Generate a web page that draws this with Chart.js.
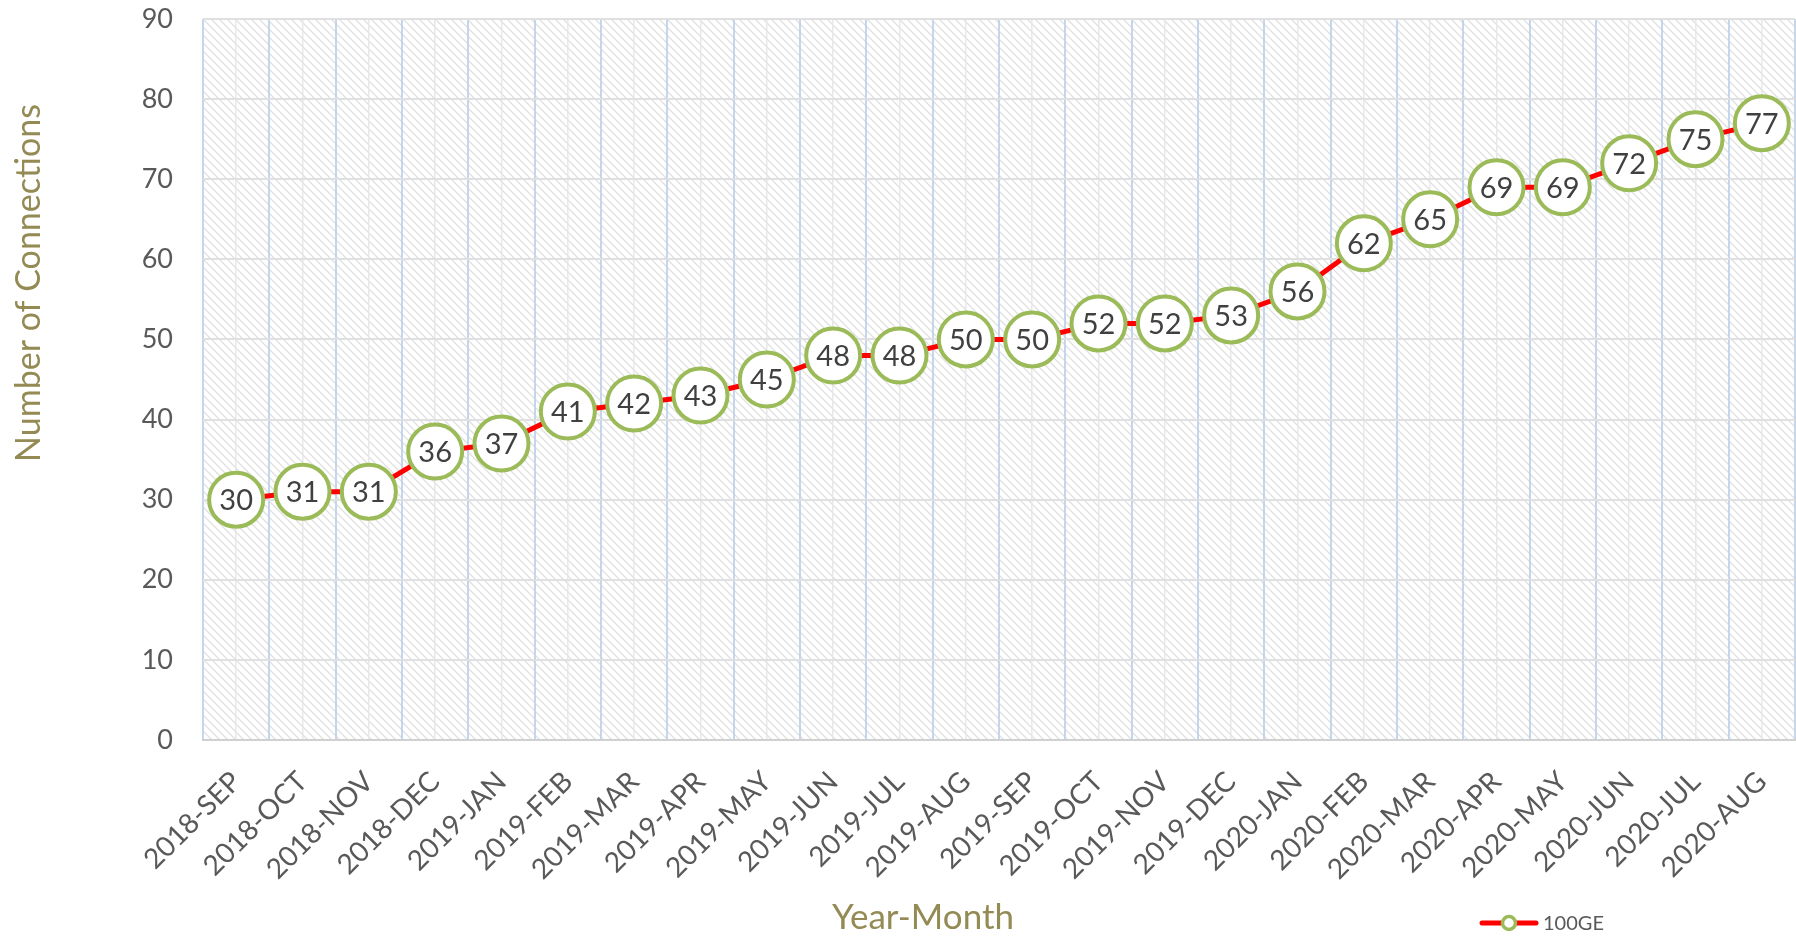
<!DOCTYPE html>
<html>
<head>
<meta charset="utf-8">
<script src="https://cdn.jsdelivr.net/npm/chart.js@4.4.1/dist/chart.umd.min.js"></script>
<style>
  html, body { margin: 0; padding: 0; background: #fff; overflow: hidden; }
  canvas { display: block; }
</style>
</head>
<body>
<canvas id="connChart" width="1796" height="937"></canvas>
<script>
// data
const MONTHS = [
  "2018-SEP", "2018-OCT", "2018-NOV", "2018-DEC",
  "2019-JAN", "2019-FEB", "2019-MAR", "2019-APR", "2019-MAY", "2019-JUN",
  "2019-JUL", "2019-AUG", "2019-SEP", "2019-OCT", "2019-NOV", "2019-DEC",
  "2020-JAN", "2020-FEB", "2020-MAR", "2020-APR", "2020-MAY", "2020-JUN",
  "2020-JUL", "2020-AUG",
];
const CONNECTIONS_100GE = [30, 31, 31, 36, 37, 41, 42, 43, 45, 48, 48, 50, 50, 52, 52, 53, 56, 62, 65, 69, 69, 72, 75, 77];
const SERIES_NAME = "100GE";
const Y_TITLE = "Number of Connections";
const X_TITLE = "Year-Month";
const Y_MIN = 0;
const Y_MAX = 90;
const Y_STEP = 10;

const COLORS = {
  line: "#ff0000",
  marker: "#9bbb59",
  title: "#948a54",
  tick: "#595959",
  label: "#404040",
  hatch: "#e0e0e0",
  gridY: "#e0e0e0",
  gridCat: "#c5d5eb",
  gridMid: "#e8e8e8",
};

const FONT = "Lato, 'Open Sans', sans-serif";
Chart.defaults.font.family = FONT;
Chart.defaults.color = COLORS.tick;

function hatchPattern(ctx) {
  const tile = document.createElement("canvas");
  tile.width = 8;
  tile.height = 8;
  const t = tile.getContext("2d");
  t.fillStyle = "#ffffff";
  t.fillRect(0, 0, 8, 8);
  t.strokeStyle = COLORS.hatch;
  t.lineWidth = 1.3;
  t.beginPath();
  t.moveTo(-2, -2); t.lineTo(10, 10);
  t.moveTo(-10, -2); t.lineTo(2, 10);
  t.moveTo(6, -2); t.lineTo(18, 10);
  t.stroke();
  return ctx.createPattern(tile, "repeat");
}

// plot area fill (white + fine diagonal hatch)
const plotBackground = {
  id: "plotBackground",
  beforeDraw(chart) {
    const { ctx, chartArea: a } = chart;
    ctx.save();
    ctx.fillStyle = hatchPattern(ctx);
    ctx.fillRect(a.left, a.top, a.right - a.left, a.bottom - a.top);
    ctx.restore();
  },
};

// numbers inside the round markers
const valueLabels = {
  id: "valueLabels",
  afterDatasetsDraw(chart) {
    const { ctx } = chart;
    const meta = chart.getDatasetMeta(0);
    ctx.save();
    ctx.font = "29px " + FONT;
    ctx.fillStyle = COLORS.label;
    ctx.textAlign = "center";
    ctx.textBaseline = "middle";
    meta.data.forEach((pt, i) => {
      ctx.fillText(String(chart.data.datasets[0].data[i]), pt.x, pt.y + 1);
    });
    ctx.restore();
  },
};

// axis titles sit off-centre in the reference, and the legend is a line + marker
const titlesAndLegend = {
  id: "titlesAndLegend",
  afterDraw(chart) {
    const { ctx } = chart;
    ctx.save();
    ctx.font = "34px " + FONT;
    ctx.fillStyle = COLORS.title;
    ctx.textAlign = "center";
    ctx.textBaseline = "middle";
    ctx.translate(29, 283);
    ctx.rotate(-Math.PI / 2);
    ctx.fillText(Y_TITLE, 0, 0);
    ctx.restore();

    ctx.save();
    ctx.font = "35px " + FONT;
    ctx.fillStyle = COLORS.title;
    ctx.textAlign = "center";
    ctx.textBaseline = "middle";
    ctx.fillText(X_TITLE, 923, 918);
    ctx.restore();

    ctx.save();
    ctx.strokeStyle = COLORS.line;
    ctx.lineWidth = 5;
    ctx.lineCap = "round";
    ctx.beginPath();
    ctx.moveTo(1482, 923);
    ctx.lineTo(1536, 923);
    ctx.stroke();
    ctx.beginPath();
    ctx.arc(1509, 923, 6.5, 0, Math.PI * 2);
    ctx.fillStyle = "#ffffff";
    ctx.fill();
    ctx.strokeStyle = COLORS.marker;
    ctx.lineWidth = 3.5;
    ctx.stroke();
    ctx.font = "20px " + FONT;
    ctx.fillStyle = COLORS.tick;
    ctx.textAlign = "left";
    ctx.textBaseline = "middle";
    ctx.fillText(SERIES_NAME, 1543, 924);
    ctx.restore();
  },
};

new Chart(document.getElementById("connChart"), {
  type: "line",
  data: {
    labels: MONTHS,
    datasets: [{
      label: SERIES_NAME,
      data: CONNECTIONS_100GE,
      borderColor: COLORS.line,
      borderWidth: 5,
      tension: 0,
      fill: false,
      clip: false,
      pointRadius: 27,
      pointHoverRadius: 27,
      pointBorderWidth: 4,
      pointBackgroundColor: "#ffffff",
      pointBorderColor: COLORS.marker,
    }],
  },
  options: {
    responsive: false,
    animation: false,
    devicePixelRatio: 1,
    layout: { autoPadding: false, padding: { top: 19, right: 1, left: 0, bottom: 0 } },
    plugins: {
      legend: { display: false },
      tooltip: { enabled: false },
    },
    scales: {
      x: {
        type: "category",
        offset: true,
        grid: { offset: true, color: COLORS.gridCat, lineWidth: 2, drawTicks: false },
        border: { display: true, color: "#d0d0d0", width: 2 },
        ticks: {
          autoSkip: false,
          minRotation: 45,
          maxRotation: 45,
          padding: 25,
          color: COLORS.tick,
          font: { size: 28 },
        },
        afterFit: (s) => { s.height = 197; s.paddingLeft = 0; s.paddingRight = 0; },
      },
      xMid: {
        type: "category",
        position: "bottom",
        offset: true,
        grid: { offset: false, color: COLORS.gridMid, lineWidth: 1.5, drawTicks: false },
        border: { display: false },
        ticks: { display: false },
        afterFit: (s) => { s.height = 0; s.paddingLeft = 0; s.paddingRight = 0; },
      },
      y: {
        min: Y_MIN,
        max: Y_MAX,
        grid: { color: COLORS.gridY, lineWidth: 2, drawTicks: false },
        border: { display: false },
        ticks: {
          stepSize: Y_STEP,
          padding: 30,
          color: COLORS.tick,
          font: { size: 27 },
        },
        afterFit: (s) => { s.width = 203; s.paddingTop = 0; s.paddingBottom = 0; },
      },
    },
  },
  plugins: [plotBackground, valueLabels, titlesAndLegend],
});
</script>
</body>
</html>
